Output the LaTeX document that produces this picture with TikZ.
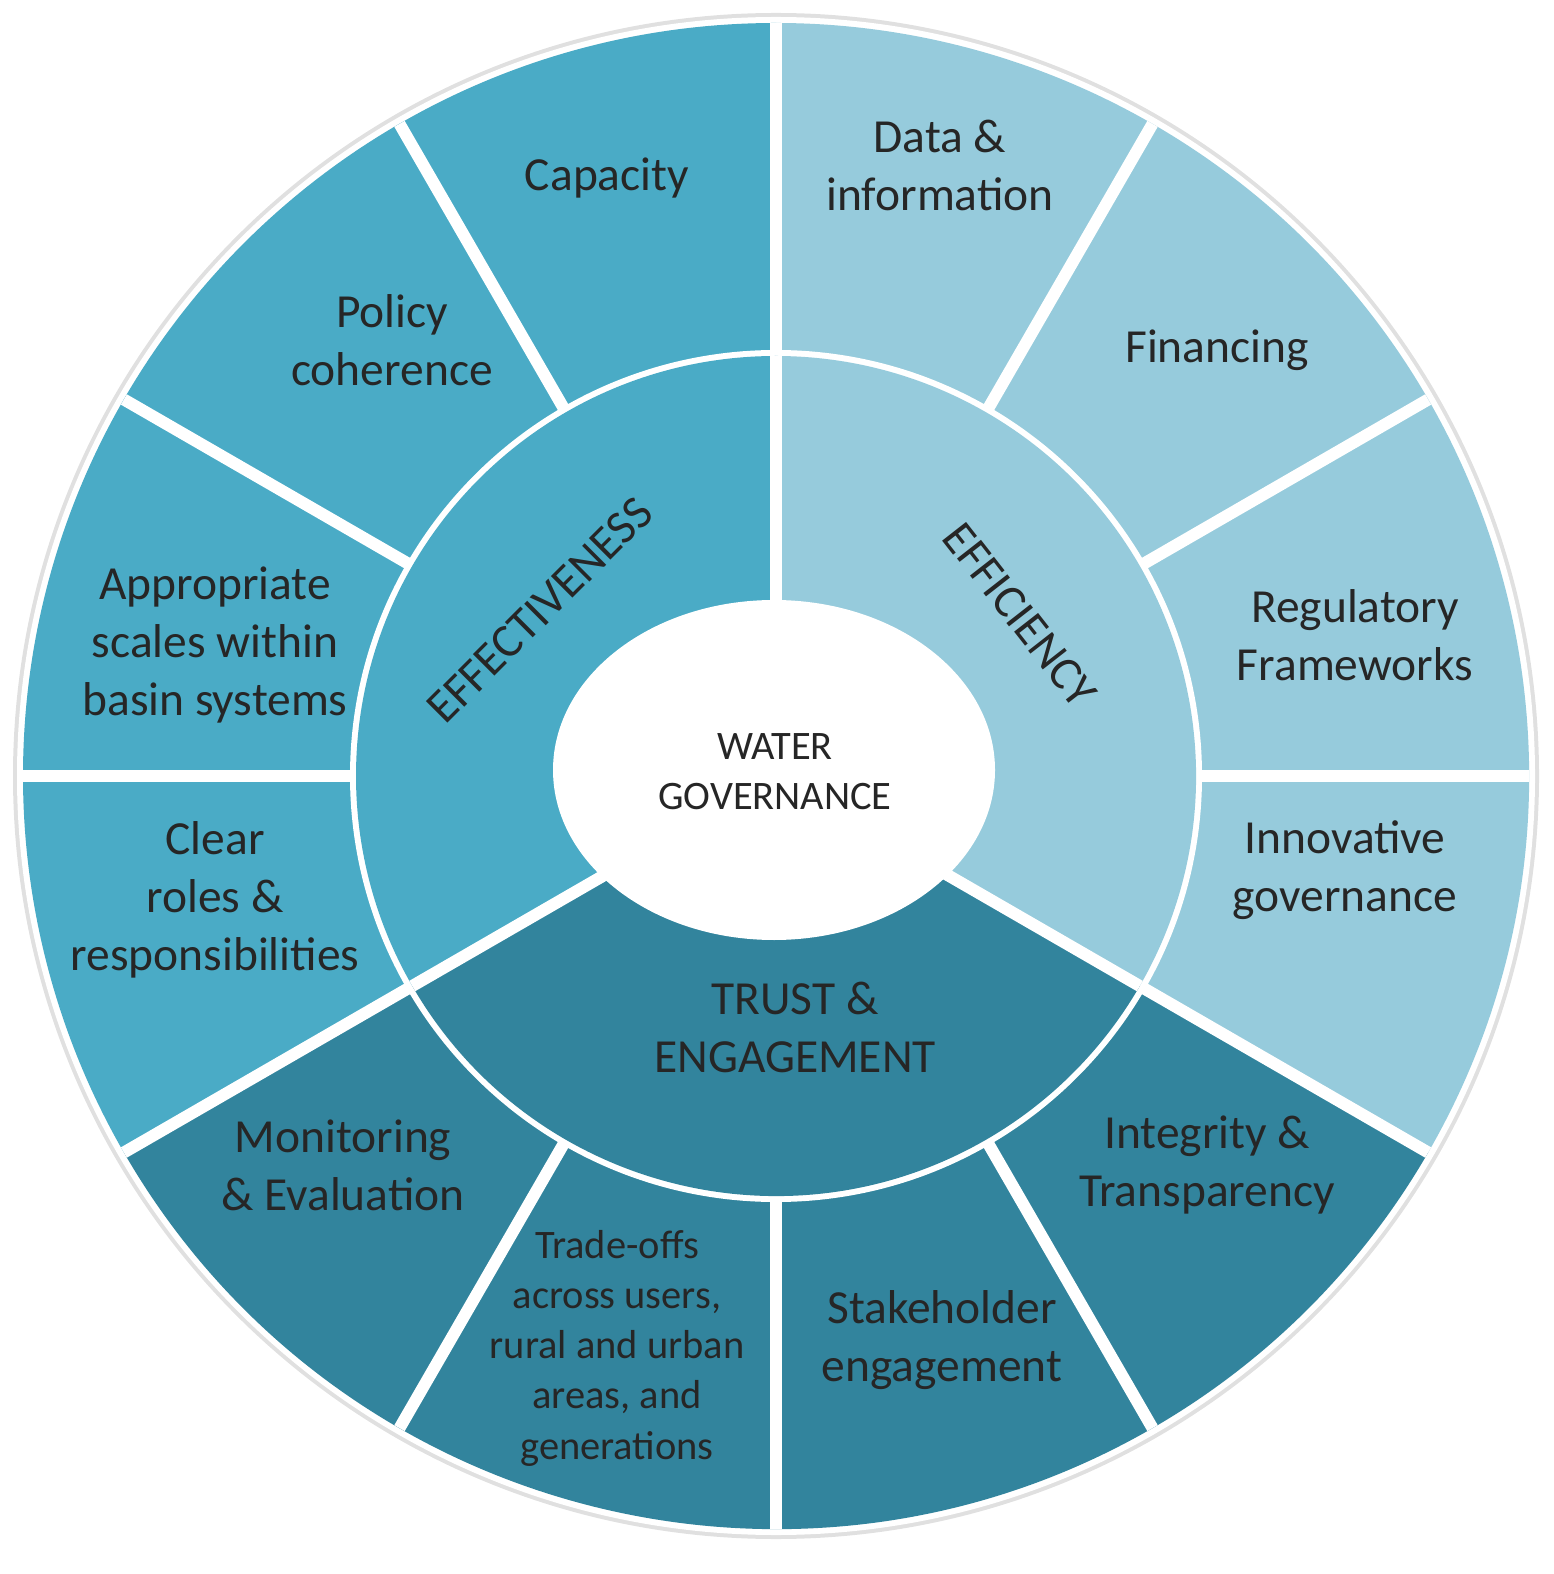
\documentclass[tikz,border=0pt]{standalone}
\usepackage{fontspec}
\setmainfont{Carlito}
\definecolor{effc}{HTML}{4AABC6}
\definecolor{effi}{HTML}{96CBDC}
\definecolor{trst}{HTML}{32849D}
\begin{document}
\begin{tikzpicture}[x=0.01cm,y=-0.01cm,
  lbl/.style={align=center,text=black!85,font=\fontsize{13.5}{16.5}\selectfont},
  sml/.style={align=center,text=black!85,font=\fontsize{11.5}{14.3}\selectfont},
  sep/.style={draw=white,line width=3.4pt}]
\useasboundingbox (0,0) rectangle (1553,1574);
\coordinate (C) at (776,776);
\def\Ro{753}\def\Ri{420}
% outer disc
\fill[black!12] (C) circle[radius=\Ro+10];
\fill[white] (C) circle[radius=\Ro+6];
% outer sectors
\fill[effc] (C) -- ++(90:\Ro*0.01cm) arc[start angle=90,end angle=210,radius=\Ro*0.01cm] -- cycle;
\fill[effi] (C) -- ++(-30:\Ro*0.01cm) arc[start angle=-30,end angle=90,radius=\Ro*0.01cm] -- cycle;
\fill[trst] (C) -- ++(210:\Ro*0.01cm) arc[start angle=210,end angle=330,radius=\Ro*0.01cm] -- cycle;
% outer separators
\foreach \a in {0,30,...,330} \draw[sep] (C) -- ++(\a:\Ro*0.01cm);
% inner ring
\fill[white] (C) circle[radius=\Ri*0.01cm+0.06cm];
\fill[effc] (C) -- ++(90:\Ri*0.01cm) arc[start angle=90,end angle=210,radius=\Ri*0.01cm] -- cycle;
\fill[effi] (C) -- ++(-30:\Ri*0.01cm) arc[start angle=-30,end angle=90,radius=\Ri*0.01cm] -- cycle;
\fill[trst] (C) -- ++(210:\Ri*0.01cm) arc[start angle=210,end angle=330,radius=\Ri*0.01cm] -- cycle;
\foreach \a in {90,210,330} \draw[sep] (C) -- ++(\a:\Ri*0.01cm);
% centre
\fill[white] (774,770) ellipse[x radius=221,y radius=170];
\node[sml] (wg) at (775,772) {WATER\\GOVERNANCE};
\node[lbl,rotate=45] (eff) at (540,610) {EFFECTIVENESS};
\node[lbl,rotate=-52] (efi) at (1020,615) {EFFICIENCY};
\node[lbl] (tr) at (795,1027) {TRUST \&\\ENGAGEMENT};
% outer labels
\node[lbl] (cap) at (607,178) {Capacity};
\node[lbl] (pol) at (392,340) {Policy\\coherence};
\node[lbl] (app) at (215,645) {Appropriate\\scales within\\basin systems};
\node[lbl] (clr) at (215,900) {Clear\\roles \&\\responsibilities};
\node[lbl] (mon) at (343,1165) {Monitoring\\\& Evaluation};
\node[sml] (tro) at (617,1348) {Trade-offs\\across users,\\rural and urban\\areas, and\\generations};
\node[lbl] (stk) at (942,1340) {Stakeholder\\engagement};
\node[lbl] (int) at (1207,1165) {Integrity \&\\Transparency};
\node[lbl] (inn) at (1345,870) {Innovative\\governance};
\node[lbl] (reg) at (1355,635) {Regulatory\\Frameworks};
\node[lbl] (fin) at (1217,350) {Financing};
\node[lbl] (dat) at (940,165) {Data \&\\information};
\end{tikzpicture}
\end{document}
